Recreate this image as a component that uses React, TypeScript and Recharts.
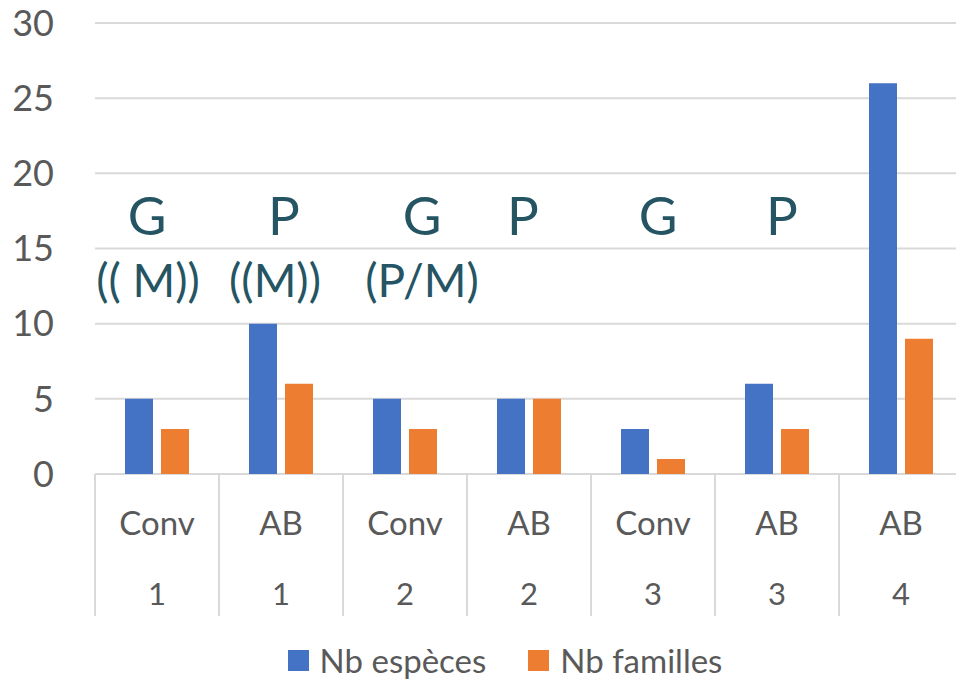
import { BarChart, Bar, XAxis, YAxis, CartesianGrid, Legend, ReferenceDot } from 'recharts'

// categories (two levels on the x axis)
const categories = ['Conv', 'AB', 'Conv', 'AB', 'Conv', 'AB', 'AB']
const sites = ['1', '1', '2', '2', '3', '3', '4']

// series
const nbEspeces = [5, 10, 5, 5, 3, 6, 26]
const nbFamilles = [3, 6, 3, 5, 1, 3, 9]

const yTicks = [0, 5, 10, 15, 20, 25, 30]

// text boxes written over the plot
const notes = [
  { idx: 0, text: 'G', level: 15.9, dx: -10, big: true },
  { idx: 0, text: '(( M))', level: 11.8, dx: -9, big: false },
  { idx: 1, text: 'P', level: 15.9, dx: 3, big: true },
  { idx: 1, text: '((M))', level: 11.8, dx: -6, big: false },
  { idx: 2, text: 'G', level: 15.9, dx: 17, big: true },
  { idx: 2, text: '(P/M)', level: 11.8, dx: 17, big: false },
  { idx: 3, text: 'P', level: 15.9, dx: -6, big: true },
  { idx: 4, text: 'G', level: 15.9, dx: 5, big: true },
  { idx: 5, text: 'P', level: 15.9, dx: 5, big: true },
]

const data = categories.map((c, i) => ({
  key: `${c}-${sites[i]}`,
  especes: nbEspeces[i],
  familles: nbFamilles[i],
}))

const GRID = '#d9d9d9'
const TXT = '#595959'
const NOTE = '#255563'

function CatTick(props: any) {
  const { x, y, payload } = props
  const i = payload.index ?? props.index
  const half = payload.offset || 62
  return (
    <g>
      <line x1={x - half} x2={x - half} y1={y} y2={y + 142} stroke={GRID} strokeWidth={2} />
      {i === categories.length - 1 && (
        <line x1={x + half} x2={x + half} y1={y} y2={y + 142} stroke={GRID} strokeWidth={2} />
      )}
      <text x={x} y={y + 61} textAnchor="middle" fill={TXT} fontSize={33}>
        {categories[i]}
      </text>
      <text x={x} y={y + 131} textAnchor="middle" fill={TXT} fontSize={31}>
        {sites[i]}
      </text>
    </g>
  )
}

const renderLegend = (props: any) => (
  <div
    style={{
      display: 'flex',
      justifyContent: 'center',
      alignItems: 'center',
      paddingLeft: 47,
      paddingTop: 25,
      fontFamily: 'Lato',
      fontSize: 33,
      color: TXT,
      lineHeight: '38px',
    }}
  >
    {(props.payload || []).map((entry: any, i: number) => (
      <div key={i} style={{ display: 'flex', alignItems: 'center', marginRight: i === 0 ? 42 : 0 }}>
        <span style={{ width: 21, height: 21, background: entry.color, marginRight: 11, display: 'inline-block' }} />
        <span>{entry.value}</span>
      </div>
    ))}
  </div>
)

export default function App() {
  return (
    <div style={{ position: 'absolute', left: 0, top: 0, width: 956, height: 682, overflow: 'hidden', background: '#fff' }}>
      <BarChart
        width={975}
        height={682}
        data={data}
        barGap={8}
        margin={{ top: 23, right: 12, left: 0, bottom: 0 }}
        style={{ fontFamily: 'Lato' }}
      >
        <CartesianGrid vertical={false} stroke={GRID} strokeWidth={2} />
        <XAxis
          dataKey="key"
          height={142}
          interval={0}
          axisLine={false}
          tickLine={false}
          tickSize={0}
          tickMargin={0}
          tick={<CatTick />}
        />
        <YAxis
          type="number"
          domain={[0, 30]}
          ticks={yTicks}
          width={95}
          axisLine={false}
          tickLine={false}
          tickSize={0}
          tickMargin={41}
          tick={{ fill: TXT, fontSize: 36 }}
        />
        <Bar dataKey="especes" name="Nb espèces" fill="#4472C4" barSize={28} isAnimationActive={false} />
        <Bar dataKey="familles" name="Nb familles" fill="#ED7D31" barSize={28} isAnimationActive={false} />
        {notes.map((n, k) => (
          <ReferenceDot
            key={k}
            x={data[n.idx].key}
            y={n.level}
            r={1}
            ifOverflow="visible"
            shape={(p: any) => (
              <text
                x={p.cx + n.dx}
                y={p.cy}
                textAnchor="middle"
                fill={NOTE}
                fontSize={n.big ? 53 : 46}
                fontFamily="Lato"
              >
                {n.text}
              </text>
            )}
          />
        ))}
        <Legend verticalAlign="bottom" height={66} content={renderLegend} />
      </BarChart>
    </div>
  )
}
